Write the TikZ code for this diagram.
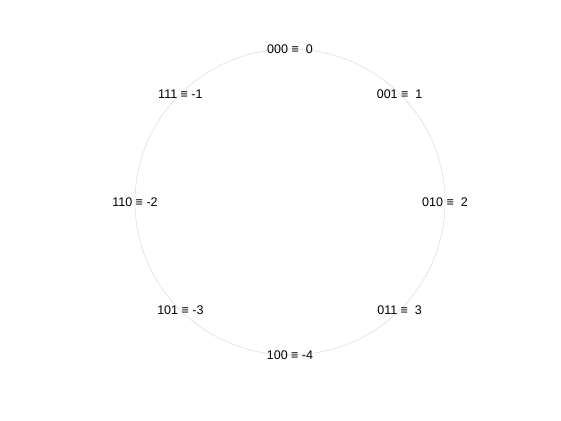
\documentclass[tikz,border=0pt]{standalone}
\usepackage{fontspec}
\setmainfont{Liberation Sans}
\usepackage{tikz}
\usetikzlibrary{positioning}

\definecolor{ringgray}{RGB}{222,222,222}
\tikzset{
  code/.style={font=\fontsize{12.5}{14}\selectfont, inner sep=1pt}
}

\begin{document}
\begin{tikzpicture}[x=1pt,y=1pt]
    \useasboundingbox (0,0) rectangle (561,420);
    \draw[ringgray, line width=0.6pt] (290,218) ellipse [x radius=155, y radius=153];
    \node[code] (n0) at (290,371)   {000 ≡ \ 0};
    \node[code] (n1) at (399.6,326.2) {001 ≡ \ 1};
    \node[code] (n2) at (445,218)   {010 ≡ \ 2};
    \node[code] (n3) at (399.6,109.8) {011 ≡ \ 3};
    \node[code] (n4) at (290,65)    {100 ≡ -4};
    \node[code] (n5) at (180.4,109.8) {101 ≡ -3};
    \node[code] (n6) at (135,218)   {110 ≡ -2};
    \node[code] (n7) at (180.4,326.2) {111 ≡ -1};
\end{tikzpicture}
\end{document}
